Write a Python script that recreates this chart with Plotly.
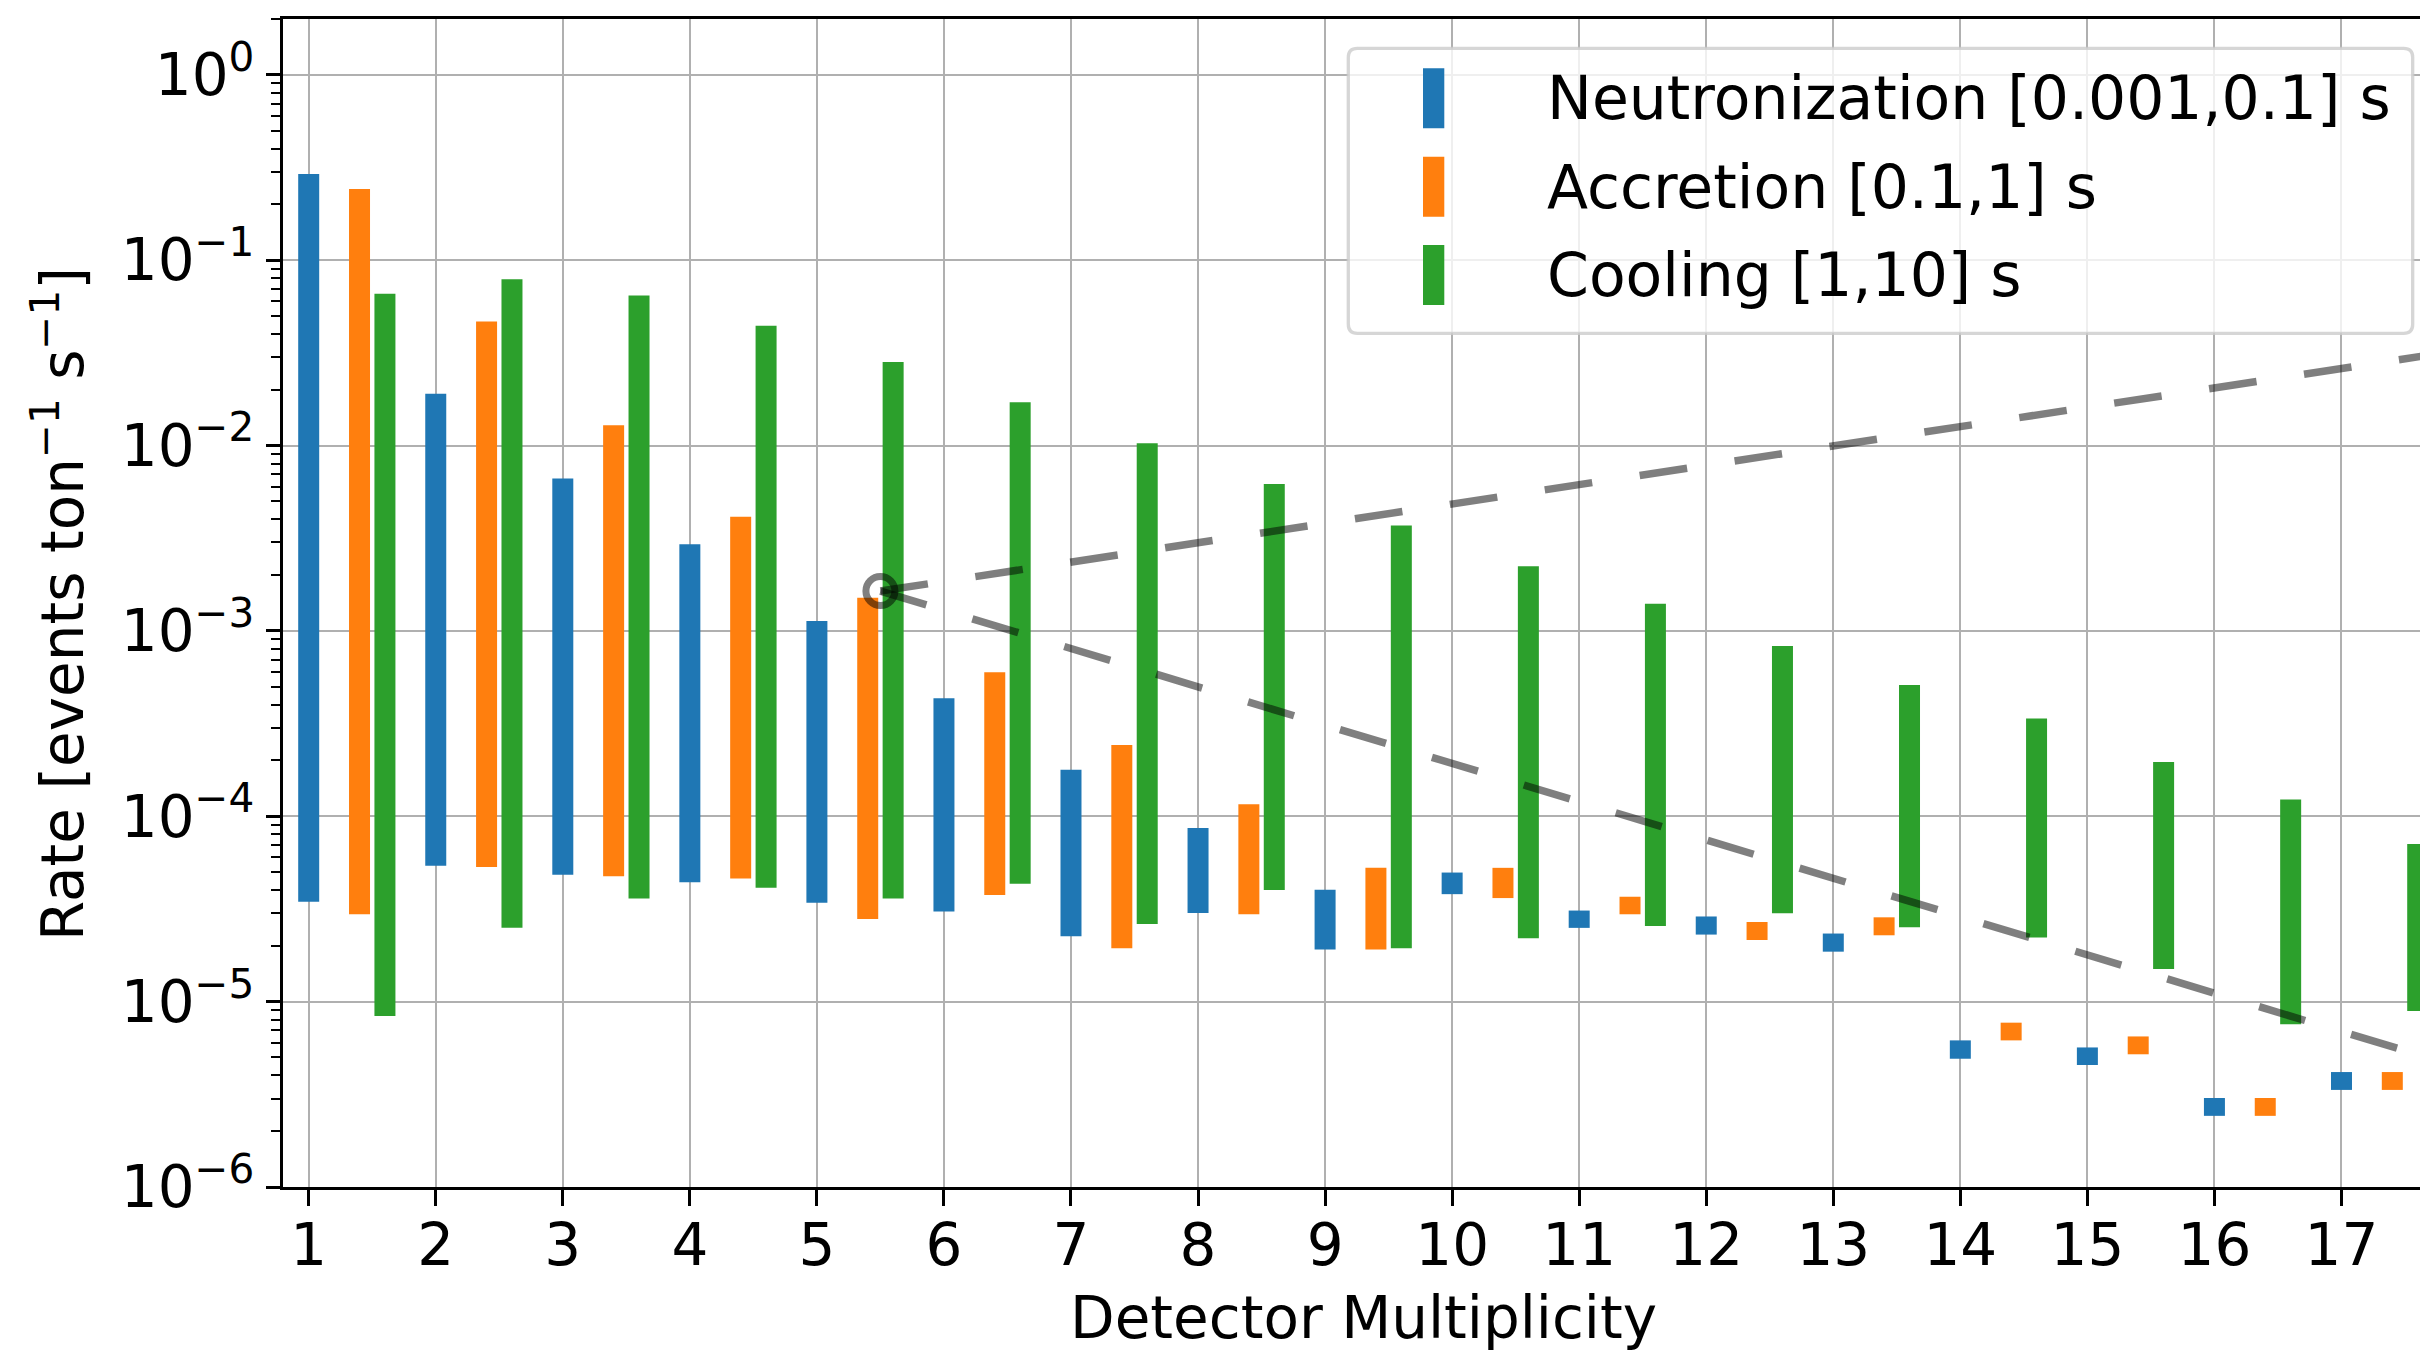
import plotly.graph_objects as go

# ---------------- data ----------------
multiplicity = list(range(1, 18))

neut_hi = [0.292, 0.0190, 6.65e-3, 2.93e-3, 1.13e-3, 4.33e-4, 1.78e-4, 8.65e-5, 4.02e-5,
           4.97e-5, 3.10e-5, 2.88e-5, 2.33e-5, 6.18e-6, 5.66e-6, 3.02e-6, 4.17e-6]
neut_lo = [3.46e-5, 5.4e-5, 4.83e-5, 4.4e-5, 3.42e-5, 3.06e-5, 2.25e-5, 3.01e-5, 1.91e-5,
           3.8e-5, 2.5e-5, 2.3e-5, 1.86e-5, 4.92e-6, 4.55e-6, 2.42e-6, 3.34e-6]

accr_hi = [0.242, 0.0467, 0.01286, 4.13e-3, 1.51e-3, 5.98e-4, 2.42e-4, 1.16e-4, 5.27e-5,
           5.27e-5, 3.68e-5, 2.69e-5, 2.85e-5, 7.7e-6, 6.49e-6, 3.02e-6, 4.17e-6]
accr_lo = [2.96e-5, 5.33e-5, 4.75e-5, 4.62e-5, 2.79e-5, 3.76e-5, 1.94e-5, 2.96e-5, 1.91e-5,
           3.62e-5, 2.96e-5, 2.15e-5, 2.28e-5, 6.18e-6, 5.2e-6, 2.42e-6, 3.34e-6]

cool_hi = [0.0659, 0.079, 0.0645, 0.0443, 0.0282, 0.0171, 0.0103, 6.2e-3, 3.7e-3,
           2.23e-3, 1.40e-3, 8.3e-4, 5.1e-4, 3.37e-4, 1.96e-4, 1.23e-4, 7.08e-5]
cool_lo = [8.37e-6, 2.5e-5, 3.6e-5, 4.11e-5, 3.6e-5, 4.33e-5, 2.62e-5, 4.0e-5, 1.94e-5,
           2.2e-5, 2.56e-5, 3.0e-5, 2.52e-5, 2.22e-5, 1.5e-5, 7.55e-6, 8.9e-6]

series_names = ["Neutronization [0.001,0.1] s", "Accretion [0.1,1] s", "Cooling [1,10] s"]

# dashed guide lines starting at the marked point
guide_x = [5.5, 18.0]
guide_upper = [1.64e-3, 0.0331]
guide_lower = [1.64e-3, 4.29e-6]
anchor_x = [5.5]
anchor_y = [1.64e-3]

y_tick_vals = [1e-6, 1e-5, 1e-4, 1e-3, 1e-2, 1e-1, 1e0]
y_tick_text = ["10<sup>−6</sup>", "10<sup>−5</sup>", "10<sup>−4</sup>", "10<sup>−3</sup>",
               "10<sup>−2</sup>", "10<sup>−1</sup>", "10<sup>0</sup>"]

# ---------------- styling ----------------
OFF = 8                      # default page margin of the html body
W_PAGE, H_PAGE = 2428, 1352
PL, PT, PB_Y = 283, 19, 1187  # plot area in page pixels
PW = W_PAGE - PL
PH = PB_Y - PT
FONT = "DejaVu Sans"
colors = ["#1f77b4", "#ff7f0e", "#2ca02c"]
offsets = [0.0, 0.4, 0.6]
BAR_W = 21
GUIDE = "rgba(0,0,0,0.5)"


def px(xp):
    return (xp - PL) / PW


def py(yp):
    return (PB_Y - yp) / PH


fig = go.Figure()

for name, col, off, lo, hi in zip(series_names, colors, offsets,
                                  [neut_lo, accr_lo, cool_lo], [neut_hi, accr_hi, cool_hi]):
    xs, ys = [], []
    for m, l, h in zip(multiplicity, lo, hi):
        xs += [m + off, m + off, None]
        ys += [l, h, None]
    fig.add_trace(go.Scatter(x=xs, y=ys, mode="lines", name=name,
                             line=dict(color=col, width=BAR_W), connectgaps=False,
                             showlegend=False, hoverinfo="skip"))

for gy in (guide_upper, guide_lower):
    fig.add_trace(go.Scatter(x=guide_x, y=gy, mode="lines", showlegend=False, hoverinfo="skip",
                             line=dict(color=GUIDE, width=7.5, dash="48px,48px")))

fig.add_trace(go.Scatter(x=anchor_x, y=anchor_y, mode="markers", showlegend=False, hoverinfo="skip",
                         marker=dict(symbol="circle-open", size=29, color=GUIDE,
                                     line=dict(width=7, color=GUIDE))))

# minor ticks on log axis
minor_vals = []
for e in range(-6, 1):
    for k in range(2, 10):
        v = k * 10.0 ** e
        if v <= 2.0:
            minor_vals.append(v)

fig.update_layout(
    width=W_PAGE - OFF, height=H_PAGE - OFF,
    margin=dict(l=PL - OFF, r=0, t=PT - OFF, b=H_PAGE - PB_Y, pad=0),
    paper_bgcolor="white", plot_bgcolor="white",
    font=dict(family=FONT, size=58, color="black"),
    showlegend=False,
    xaxis=dict(range=[0.7977, 17.681], tickmode="array", tickvals=multiplicity,
               ticktext=[str(m) for m in multiplicity],
               showgrid=True, gridcolor="#b0b0b0", gridwidth=2.4, zeroline=False,
               showline=True, linecolor="black", linewidth=3, mirror=True,
               ticks="outside", ticklen=16, tickwidth=2.5, tickcolor="black",
               ticklabelstandoff=-11, tickfont=dict(size=58)),
    yaxis=dict(type="log", range=[-6, 0.30103], tickmode="array", tickvals=y_tick_vals,
               ticktext=y_tick_text,
               showgrid=True, gridcolor="#b0b0b0", gridwidth=2.4, zeroline=False,
               showline=True, linecolor="black", linewidth=3, mirror=False,
               ticks="outside", ticklen=14, tickwidth=2.5, tickcolor="black",
               tickfont=dict(size=58),
               minor=dict(tickmode="array", tickvals=minor_vals, ticks="outside",
                          ticklen=9, tickwidth=2, tickcolor="black", showgrid=False)),
)

# axis titles
fig.add_annotation(x=px(1363), y=py(1318), xref="paper", yref="paper",
                   text="Detector Multiplicity", showarrow=False,
                   xanchor="center", yanchor="middle", font=dict(size=58))
fig.add_annotation(x=px(59), y=py(604), xref="paper", yref="paper",
                   text="Rate [events ton<sup>−1</sup> s<sup>−1</sup>]", showarrow=False,
                   textangle=-90, xanchor="center", yanchor="middle", font=dict(size=58))

# legend (drawn manually, like matplotlib's)
bx0, bx1, by0, by1, r = 1348.3, 2412.7, 48.3, 333.3, 9
path = (f"M {px(bx0 + r)} {py(by0)} L {px(bx1 - r)} {py(by0)} "
        f"Q {px(bx1)} {py(by0)} {px(bx1)} {py(by0 + r)} "
        f"L {px(bx1)} {py(by1 - r)} Q {px(bx1)} {py(by1)} {px(bx1 - r)} {py(by1)} "
        f"L {px(bx0 + r)} {py(by1)} Q {px(bx0)} {py(by1)} {px(bx0)} {py(by1 - r)} "
        f"L {px(bx0)} {py(by0 + r)} Q {px(bx0)} {py(by0)} {px(bx0 + r)} {py(by0)} Z")
fig.add_shape(type="path", path=path, xref="paper", yref="paper", layer="above",
              fillcolor="rgba(255,255,255,0.8)", line=dict(color="rgba(204,204,204,0.8)", width=3.3))

row_centers = [98.3, 186.7, 275.0]
for name, col, yc in zip(series_names, colors, row_centers):
    fig.add_shape(type="rect", xref="paper", yref="paper", layer="above",
                  x0=px(1423), x1=px(1444.3), y0=py(yc + 30), y1=py(yc - 30),
                  fillcolor=col, line=dict(width=0))
    fig.add_annotation(x=px(1545), y=py(yc), xref="paper", yref="paper", text=name,
                       showarrow=False, xanchor="left", yanchor="middle",
                       font=dict(size=60))

fig.write_html("out.html")
